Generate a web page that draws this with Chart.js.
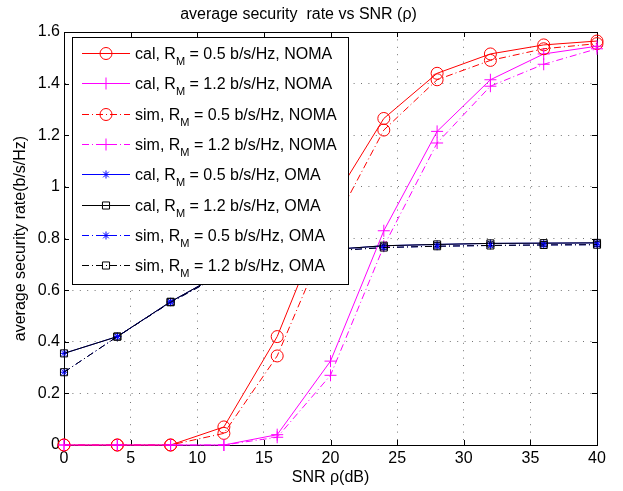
<!DOCTYPE html>
<html>
<head>
<meta charset="utf-8">
<title>average security rate vs SNR</title>
<script src="https://cdn.jsdelivr.net/npm/chart.js@4/dist/chart.umd.min.js"></script>
<style>
  html, body { margin: 0; padding: 0; background: #fff; }
  canvas { display: block; }
</style>
</head>
<body>
<canvas id="chart" width="623" height="491"></canvas>
<script>
// SNR points (dB)
const snr = [0, 4, 8, 12, 16, 20, 24, 28, 32, 36, 40];

// NOMA, analytical and simulated
const calNoma05 = [0, 0, 0, 0.07, 0.42, 0.93, 1.265, 1.44, 1.515, 1.55, 1.565];
const calNoma12 = [0, 0, 0, 0, 0.04, 0.325, 0.83, 1.215, 1.415, 1.515, 1.545];
const simNoma05 = [0, 0, 0, 0.045, 0.345, 0.83, 1.22, 1.415, 1.49, 1.535, 1.555];
const simNoma12 = [0, 0, 0, 0, 0.03, 0.27, 0.77, 1.17, 1.39, 1.475, 1.535];

// OMA, analytical and simulated
const calOma05 = [0.355, 0.42, 0.555, 0.67, 0.73, 0.757, 0.772, 0.777, 0.781, 0.782, 0.783];
const calOma12 = [0.355, 0.42, 0.555, 0.67, 0.73, 0.757, 0.772, 0.777, 0.781, 0.782, 0.783];
const simOma05 = [0.282, 0.42, 0.553, 0.665, 0.725, 0.752, 0.765, 0.77, 0.773, 0.775, 0.776];
const simOma12 = [0.282, 0.42, 0.553, 0.665, 0.725, 0.752, 0.765, 0.77, 0.773, 0.775, 0.776];

const xTicks = [0, 5, 10, 15, 20, 25, 30, 35, 40];
const yTicks = [0, 0.2, 0.4, 0.6, 0.8, 1, 1.2, 1.4, 1.6];

// legend text: [prefix, subscript, suffix]
const legendText = [
  ["cal, R", "M", " = 0.5 b/s/Hz, NOMA"],
  ["cal, R", "M", " = 1.2 b/s/Hz, NOMA"],
  ["sim, R", "M", " = 0.5 b/s/Hz, NOMA"],
  ["sim, R", "M", " = 1.2 b/s/Hz, NOMA"],
  ["cal, R", "M", " = 0.5 b/s/Hz, OMA"],
  ["cal, R", "M", " = 1.2 b/s/Hz, OMA"],
  ["sim, R", "M", " = 0.5 b/s/Hz, OMA"],
  ["sim, R", "M", " = 1.2 b/s/Hz, OMA"],
];

const FONT = "'Liberation Sans', Arial, Helvetica, sans-serif";
const DASHDOT = [7, 3, 1, 3];

const series = [
  { data: calNoma05, color: "#ff0000", style: "circle", r: 6, dash: [] },
  { data: calNoma12, color: "#ff00ff", style: "cross", r: 6, dash: [] },
  { data: simNoma05, color: "#ff0000", style: "circle", r: 6, dash: DASHDOT },
  { data: simNoma12, color: "#ff00ff", style: "cross", r: 6, dash: DASHDOT },
  { data: calOma05, color: "#0000ff", style: "star", r: 4, dash: [] },
  { data: calOma12, color: "#000000", style: "rect", r: 5, dash: [] },
  { data: simOma05, color: "#0000ff", style: "star", r: 4, dash: DASHDOT },
  { data: simOma12, color: "#000000", style: "rect", r: 5, dash: DASHDOT },
];

const datasets = series.map((s, i) => ({
  label: legendText[i].join(""),
  data: snr.map((x, j) => ({ x: x, y: s.data[j] })),
  borderColor: s.color,
  backgroundColor: "rgba(0,0,0,0)",
  borderWidth: 1,
  borderDash: s.dash,
  pointStyle: s.style,
  pointRadius: s.r,
  pointHoverRadius: s.r,
  pointBorderColor: s.color,
  pointBackgroundColor: "rgba(0,0,0,0)",
  pointBorderWidth: 1,
  tension: 0,
  fill: false,
  clip: false,
  order: series.length - i, // later series drawn on top
}));

// axes box and inward ticks on all four sides
const boxPlugin = {
  id: "axesBox",
  beforeDatasetsDraw(chart) {
    const { ctx, chartArea: a, scales } = chart;
    ctx.save();
    ctx.strokeStyle = "#000";
    ctx.lineWidth = 1;
    ctx.setLineDash([]);
    ctx.strokeRect(Math.round(a.left) + 0.5, Math.round(a.top) + 0.5,
      Math.round(a.right - a.left), Math.round(a.bottom - a.top));
    const len = 5;
    ctx.beginPath();
    xTicks.forEach(v => {
      const px = Math.round(scales.x.getPixelForValue(v)) + 0.5;
      ctx.moveTo(px, a.bottom); ctx.lineTo(px, a.bottom - len);
      ctx.moveTo(px, a.top); ctx.lineTo(px, a.top + len);
    });
    yTicks.forEach(v => {
      const py = Math.round(scales.y.getPixelForValue(v)) + 0.5;
      ctx.moveTo(a.left, py); ctx.lineTo(a.left + len, py);
      ctx.moveTo(a.right, py); ctx.lineTo(a.right - len, py);
    });
    ctx.stroke();
    ctx.restore();
  },
};

function drawMarker(ctx, style, r, x, y) {
  ctx.beginPath();
  if (style === "circle") {
    ctx.arc(x, y, r, 0, Math.PI * 2);
  } else if (style === "cross") {
    ctx.moveTo(x - r, y); ctx.lineTo(x + r, y);
    ctx.moveTo(x, y - r); ctx.lineTo(x, y + r);
  } else if (style === "star") {
    ctx.moveTo(x - r, y); ctx.lineTo(x + r, y);
    ctx.moveTo(x, y - r); ctx.lineTo(x, y + r);
    const d = r * Math.SQRT1_2;
    ctx.moveTo(x - d, y - d); ctx.lineTo(x + d, y + d);
    ctx.moveTo(x - d, y + d); ctx.lineTo(x + d, y - d);
  } else if (style === "rect") {
    const s = r * Math.SQRT1_2;
    ctx.rect(x - s, y - s, 2 * s, 2 * s);
  }
  ctx.stroke();
}

// boxed legend in the upper left corner of the plot
const legendPlugin = {
  id: "boxLegend",
  afterDatasetsDraw(chart) {
    const { ctx, chartArea: a } = chart;
    const left = a.left + 8, top = a.top + 5, w = 276, h = 247;
    const rowStart = top + 16, rowGap = 30.3;
    ctx.save();
    ctx.fillStyle = "#fff";
    ctx.fillRect(left, top, w, h);
    ctx.strokeStyle = "#000";
    ctx.lineWidth = 1;
    ctx.strokeRect(left + 0.5, top + 0.5, w, h);
    series.forEach((s, i) => {
      const y = Math.round(rowStart + i * rowGap) + 0.5;
      ctx.strokeStyle = s.color;
      ctx.lineWidth = 1;
      ctx.setLineDash(s.dash);
      ctx.beginPath();
      ctx.moveTo(left + 10, y);
      ctx.lineTo(left + 58, y);
      ctx.stroke();
      ctx.setLineDash([]);
      drawMarker(ctx, s.style, s.r, left + 34, y);

      const [pre, sub, post] = legendText[i];
      let tx = left + 63;
      const base = y + 5;
      ctx.fillStyle = "#000";
      ctx.textBaseline = "alphabetic";
      ctx.textAlign = "left";
      ctx.font = "16px " + FONT;
      ctx.fillText(pre, tx, base);
      tx += ctx.measureText(pre).width;
      ctx.font = "11px " + FONT;
      ctx.fillText(sub, tx, base + 6);
      tx += ctx.measureText(sub).width;
      ctx.font = "16px " + FONT;
      ctx.fillText(post, tx, base);
    });
    ctx.restore();
  },
};

new Chart(document.getElementById("chart"), {
  type: "line",
  data: { datasets },
  options: {
    responsive: false,
    animation: false,
    events: [],
    layout: { padding: { left: 0, right: 26, top: 0, bottom: 0 } },
    scales: {
      x: {
        type: "linear",
        min: 0,
        max: 40,
        afterBuildTicks: s => { s.ticks = xTicks.map(v => ({ value: v })); },
        afterFit: s => { s.height = 46; },
        ticks: {
          color: "#000",
          font: { family: FONT, size: 16 },
          padding: 4,
          maxRotation: 0,
        },
        grid: { color: "rgba(0,0,0,0.55)", lineWidth: 1, drawTicks: false },
        border: { display: true, color: "#000", dash: [1, 6.4] },
        title: {
          display: true,
          text: "SNR ρ(dB)",
          color: "#000",
          font: { family: FONT, size: 16 },
          padding: { top: 0, bottom: 4 },
        },
      },
      y: {
        type: "linear",
        min: 0,
        max: 1.6,
        afterBuildTicks: s => { s.ticks = yTicks.map(v => ({ value: v })); },
        afterFit: s => { s.width = 64; },
        ticks: {
          color: "#000",
          font: { family: FONT, size: 16 },
          padding: 4,
          callback: v => String(Math.round(v * 10) / 10),
        },
        grid: { color: "rgba(0,0,0,0.55)", lineWidth: 1, drawTicks: false },
        border: { display: true, color: "#000", dash: [1, 6.4] },
        title: {
          display: true,
          text: "average security rate(b/s/Hz)",
          color: "#000",
          font: { family: FONT, size: 16 },
          padding: { top: 11, bottom: 0 },
        },
      },
    },
    plugins: {
      legend: { display: false },
      tooltip: { enabled: false },
      title: {
        display: true,
        text: "average security  rate vs SNR (ρ)",
        color: "#000",
        font: { family: FONT, size: 16, weight: "normal" },
        padding: { top: 5, bottom: 7.8 },
      },
    },
  },
  plugins: [boxPlugin, legendPlugin],
});
</script>
</body>
</html>
